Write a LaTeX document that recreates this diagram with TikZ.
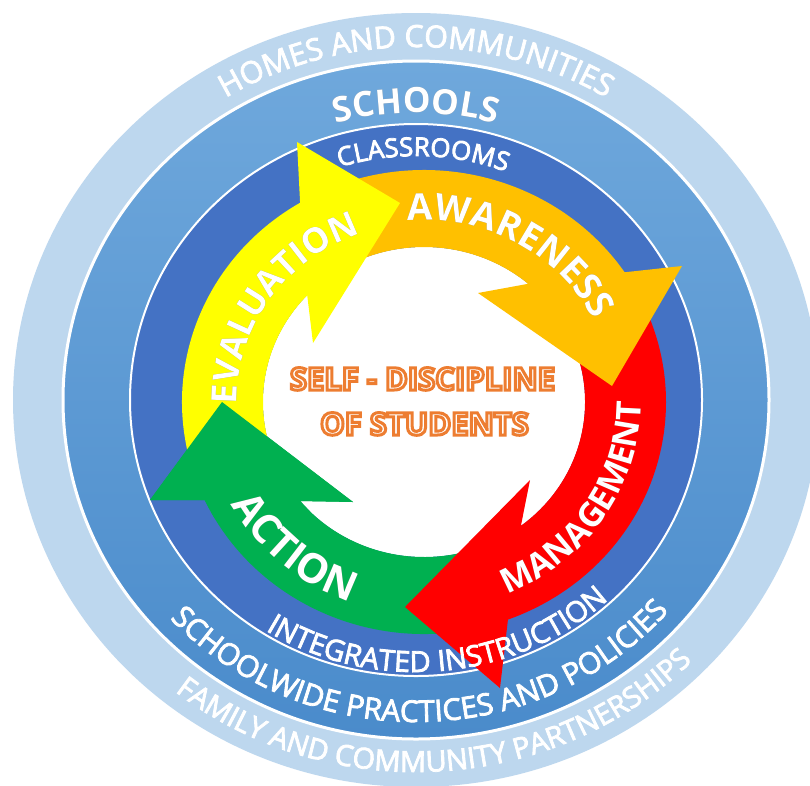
\documentclass[tikz,border=0pt]{standalone}
\usepackage{fontspec}
\setmainfont{Open Sans}
\usetikzlibrary{decorations.text,calc}
\definecolor{lightring}{HTML}{BDD7EE}
\definecolor{midtop}{HTML}{6FA8DC}
\definecolor{midbot}{HTML}{4A8BCB}
\definecolor{darkring}{HTML}{4472C4}
\definecolor{arryellow}{HTML}{FFFF00}
\definecolor{arrorange}{HTML}{FFC000}
\definecolor{arrred}{HTML}{FF0000}
\definecolor{arrgreen}{HTML}{00B050}
\definecolor{selforange}{HTML}{ED7D31}
% text drawn filled white and stroked orange (PDF text render mode 2)
\newcommand\orangeoutline[1]{\special{pdf:literal direct 2 Tr 3 w 0.929 0.490 0.192 RG}#1\special{pdf:literal direct 0 Tr}}
% slightly heavier text: fill and stroke in the same colour
\newcommand\semiweight{\special{pdf:literal direct 2 Tr 0.8 w}}
\newcommand\plainweight{\special{pdf:literal direct 0 Tr}}
\tikzset{
  selftext/.style={inner sep=0pt, anchor=base, font=\fontsize{31}{36}\selectfont\bfseries},
}
\begin{document}
\begin{tikzpicture}[x=1pt,y=1pt]
\useasboundingbox (0,0) rectangle (810,-785);
\fill[white] (0,0) rectangle (810,-785);
\coordinate (O) at (416,-400);
\coordinate (A) at (424,-402);
% rings
\fill[lightring] (O) ellipse[x radius=403, y radius=387];
\shadedraw[top color=midtop, bottom color=midbot, draw=white, line width=3pt] (O) ellipse[x radius=353, y radius=339];
\filldraw[fill=darkring, draw=white, line width=2pt] (O) ellipse[x radius=286, y radius=276];
\fill[white] (A) ellipse[x radius=161, y radius=155];
% arrows: green, red, orange, yellow, then green head again
\fill[arrgreen] ($(A)+(-75:242 and 232)$) arc[start angle=-75,end angle=-155,x radius=242,y radius=232]
  -- (150,-500) -- (222,-402) -- (353,-502) -- ($(A)+(-140.3:161 and 155)$)
  arc[start angle=-140.3,end angle=-75,x radius=161,y radius=155] -- cycle;
\fill[arrred] ($(A)+(28:242 and 232)$) arc[start angle=28,end angle=-69.7,x radius=242,y radius=232]
  -- (500,-688) -- (405,-607) -- (530,-480) -- ($(A)+(-53:161 and 155)$)
  arc[start angle=-53,end angle=28,x radius=161,y radius=155] -- cycle;
\fill[arrorange] ($(A)+(115:242 and 232)$) arc[start angle=115,end angle=34,x radius=242,y radius=232]
  -- (682,-266) -- (612,-386) -- (478,-293) -- ($(A)+(49.7:161 and 155)$)
  arc[start angle=49.7,end angle=115,x radius=161,y radius=155] -- cycle;
\fill[arryellow] ($(A)+(200:242 and 232)$) arc[start angle=200,end angle=120.8,x radius=242,y radius=232]
  -- (297,-142) -- (400,-203) -- (313,-343) -- ($(A)+(136.5:161 and 155)$)
  arc[start angle=136.5,end angle=200,x radius=161,y radius=155] -- cycle;
\fill[arrgreen] ($(A)+(-150:242 and 232)$) -- ($(A)+(-155:242 and 232)$)
  -- (150,-500) -- (222,-402) -- (353,-502) -- ($(A)+(-140.3:161 and 155)$) -- ($(A)+(-135:161 and 155)$) -- cycle;
% ring texts
\path[decorate,decoration={text along path,text align=center,text={|\semiweight\fontsize{30.5}{36}\selectfont\color{white}|HOMES AND COMMUNITIES}}]
  ($(O)+(178:368 and 353)$) arc[start angle=178,end angle=2,x radius=368,y radius=353];
\begin{scope}[opacity=0.35,shift={(1.5,-2)}]
\path[decorate,decoration={text along path,text align=center,text={|\plainweight\fontsize{35}{40}\selectfont\bfseries\color{black}|SCHOOLS}}]
  ($(O)+(180:299 and 287)$) arc[start angle=180,end angle=0,x radius=299,y radius=287];
\end{scope}
\path[decorate,decoration={text along path,text align=center,text={|\plainweight\fontsize{35}{40}\selectfont\bfseries\color{white}|SCHOOLS}}]
  ($(O)+(180:299 and 287)$) arc[start angle=180,end angle=0,x radius=299,y radius=287];
\path[decorate,decoration={text along path,text align=center,text={|\semiweight\fontsize{26}{30}\selectfont\color{white}|CLASSROOMS}}]
  ($(O)+(178.3:254 and 244)$) arc[start angle=178.3,end angle=-1.7,x radius=254,y radius=244];
\path[decorate,decoration={text along path,text align=center,text={|\semiweight\fontsize{29}{34}\selectfont\color{white}|INTEGRATED INSTRUCTION}}]
  ($(O)+(185.5:283 and 272)$) arc[start angle=185.5,end angle=365.5,x radius=283,y radius=272];
\path[decorate,decoration={text along path,text align=center,text={|\semiweight\fontsize{30}{34}\selectfont\color{white}|SCHOOLWIDE PRACTICES AND POLICIES}}]
  ($(O)+(180.9:335 and 322)$) arc[start angle=180.9,end angle=360.9,x radius=335,y radius=322];
\path[decorate,decoration={text along path,text align=center,text={|\semiweight\fontsize{29}{34}\selectfont\color{white}|FAMILY AND COMMUNITY PARTNERSHIPS}}]
  ($(O)+(183.6:388 and 372)$) arc[start angle=183.6,end angle=363.6,x radius=388,y radius=372];
% arrow labels with shadows
\begin{scope}[opacity=0.4,shift={(2,-2)}]
\path[decorate,decoration={text along path,text align=center,text={|\plainweight\fontsize{37}{42}\selectfont\bfseries\color{black}|AWARENESS}}]
  ($(A)+(150:190 and 182)$) arc[start angle=150,end angle=-30,x radius=190,y radius=182];
\path[decorate,decoration={text along path,text align=center,text={|\plainweight\fontsize{34}{38}\selectfont\bfseries\color{black}|MANAGEMENT}}]
  ($(A)+(-123:217 and 208)$) arc[start angle=-123,end angle=57,x radius=217,y radius=208];
\path[decorate,decoration={text along path,text align=center,text={|\plainweight\fontsize{41}{46}\selectfont\bfseries\color{black}|ACTION}}]
  ($(A)+(138.7:220 and 212)$) arc[start angle=138.7,end angle=318.7,x radius=220,y radius=212];
\path[decorate,decoration={text along path,text align=center,text={|\plainweight\fontsize{35}{40}\selectfont\bfseries\color{black}|EVALUATION}}]
  ($(A)+(236:187 and 179)$) arc[start angle=236,end angle=56,x radius=187,y radius=179];
\end{scope}
\path[decorate,decoration={text along path,text align=center,text={|\plainweight\fontsize{37}{42}\selectfont\bfseries\color{white}|AWARENESS}}]
  ($(A)+(150:190 and 182)$) arc[start angle=150,end angle=-30,x radius=190,y radius=182];
\path[decorate,decoration={text along path,text align=center,text={|\plainweight\fontsize{34}{38}\selectfont\bfseries\color{white}|MANAGEMENT}}]
  ($(A)+(-123:217 and 208)$) arc[start angle=-123,end angle=57,x radius=217,y radius=208];
\path[decorate,decoration={text along path,text align=center,text={|\plainweight\fontsize{41}{46}\selectfont\bfseries\color{white}|ACTION}}]
  ($(A)+(138.7:220 and 212)$) arc[start angle=138.7,end angle=318.7,x radius=220,y radius=212];
\path[decorate,decoration={text along path,text align=center,text={|\plainweight\fontsize{35}{40}\selectfont\bfseries\color{white}|EVALUATION}}]
  ($(A)+(236:187 and 179)$) arc[start angle=236,end angle=56,x radius=187,y radius=179];
% centre text
\node[selftext,text=white] (selfline) at (422.5,-390) {\orangeoutline{SELF - DISCIPLINE}};
\node[selftext,text=white] (studline) at (424.5,-435) {\orangeoutline{OF STUDENTS}};
\end{tikzpicture}
\end{document}
